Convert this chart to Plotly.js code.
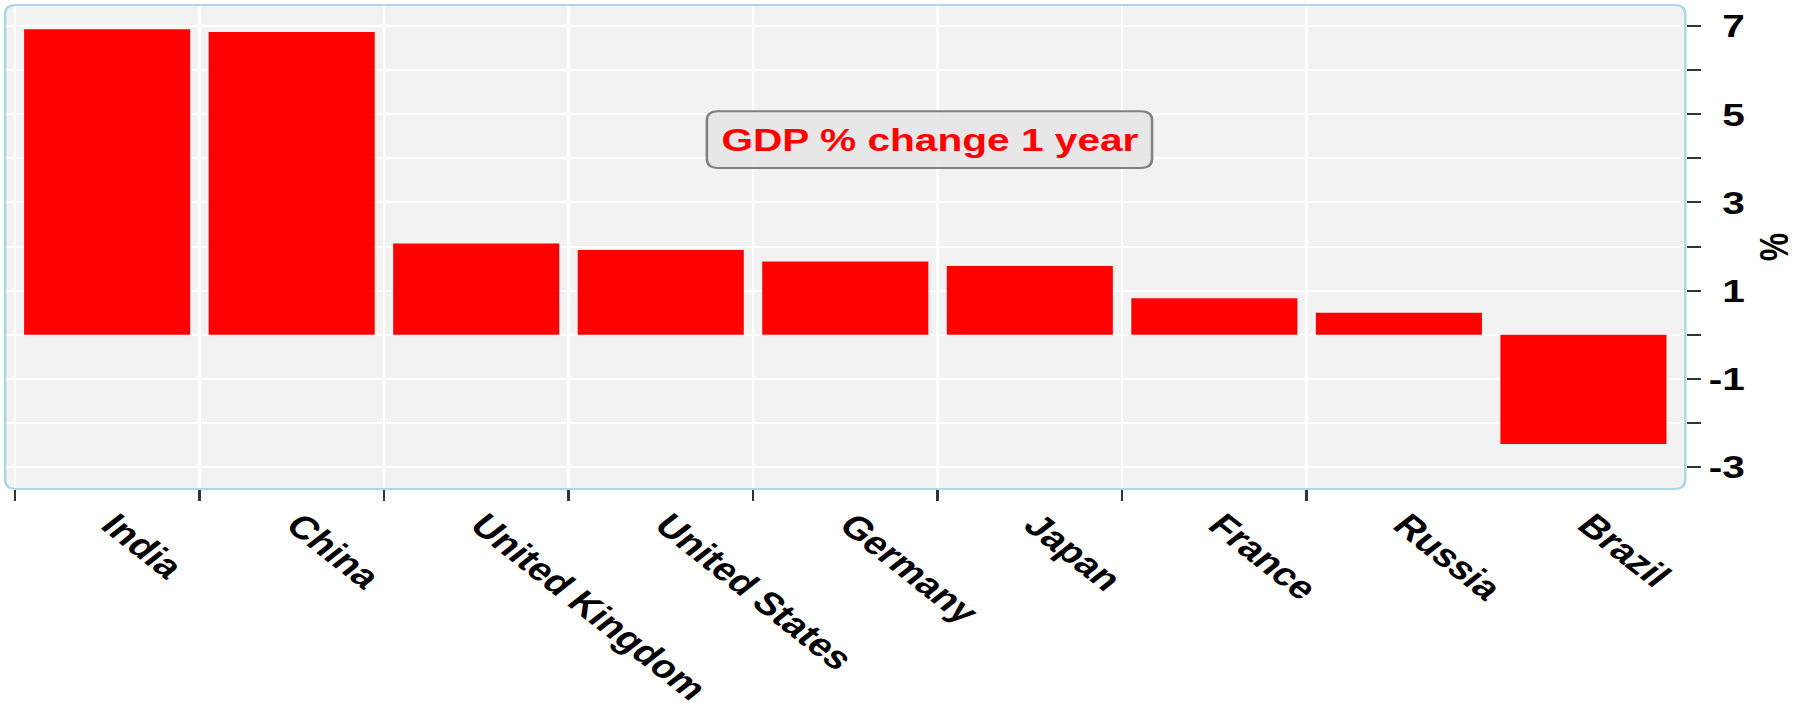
<!DOCTYPE html>
<html>
<head>
<meta charset="utf-8">
<script src="https://cdn.plot.ly/plotly-3.0.1.min.js"></script>
<style>
  html, body { margin: 0; padding: 0; background: #ffffff; overflow: hidden; }
  #wrap { width: 1797px; height: 714px; overflow: hidden; position: relative; }
  #chart { position: absolute; left: 0; top: 0; transform-origin: 0 0; }
</style>
</head>
<body>
<div id="wrap"><div id="chart"></div></div>
<script>
// ---- data ----
const countries = ['India', 'China', 'United Kingdom', 'United States', 'Germany', 'Japan', 'France', 'Russia', 'Brazil'];
const gdpChange = [6.93, 6.87, 2.07, 1.92, 1.66, 1.56, 0.83, 0.50, -2.48];
const yTickValues = [-3, -2, -1, 0, 1, 2, 3, 4, 5, 6, 7];
const yTickLabels = ['-3', '', '-1', '', '\u20041', '', '\u20043', '', '\u20045', '', '\u20047'];
const chartTitle = 'GDP % change 1 year';
const yAxisTitle = '%';

// ---- geometry (the reference is horizontally stretched) ----
const K = 1.27;
const FULL_W = 1797, FULL_H = 714;
const W = FULL_W / K;
const ml = 5.5 / K, mr = (FULL_W - 1685) / K, mt = 4.7, mb = FULL_H - 489.3;
const pw = W - ml - mr, ph = FULL_H - mt - mb;
const X_RANGE = [-0.553, 8.552];
// category boundaries that carry a tick / vertical grid line (all but the last)
const boundaryTicks = countries.slice(0, -1).map((c, i) => i - 0.5);

const FONT = 'Liberation Sans, Arial, Helvetica, sans-serif';

function px(x) { return x / pw; }
function py(y) { return 1 - y / ph; }
// rounded rectangle in plot-area pixel coords -> paper path
function roundRect(x0, y0, x1, y1, r) {
  const P = (x, y) => px(x) + ',' + py(y);
  return 'M' + P(x0 + r, y0) +
    ' L' + P(x1 - r, y0) + ' Q' + P(x1, y0) + ' ' + P(x1, y0 + r) +
    ' L' + P(x1, y1 - r) + ' Q' + P(x1, y1) + ' ' + P(x1 - r, y1) +
    ' L' + P(x0 + r, y1) + ' Q' + P(x0, y1) + ' ' + P(x0, y1 - r) +
    ' L' + P(x0, y0 + r) + ' Q' + P(x0, y0) + ' ' + P(x0 + r, y0) + ' Z';
}

// box of the in-plot label (screen px of reference, converted)
const bx0 = 707 / K - ml, bx1 = 1152 / K - ml, by0 = 111 - mt, by1 = 168 - mt;

const data = [
  {
    type: 'bar',
    x: countries,
    y: gdpChange,
    width: 0.9,
    marker: { color: '#ff0000', line: { width: 0 } },
    hoverinfo: 'x+y'
  },
  { type: 'scatter', x: [], y: [], xaxis: 'x2', yaxis: 'y', showlegend: false, hoverinfo: 'skip' }
];

const layout = {
  width: W,
  height: FULL_H,
  margin: { l: ml, r: mr, t: mt, b: mb, pad: 0 },
  paper_bgcolor: '#ffffff',
  plot_bgcolor: 'rgba(0,0,0,0)',
  showlegend: false,
  font: { family: FONT, color: '#000000' },
  xaxis: {
    type: 'category',
    range: X_RANGE,
    tickson: 'boundaries',
    ticks: 'outside',
    ticklen: 11,
    tickwidth: 2,
    tickcolor: 'rgba(0,0,0,0)',
    ticklabelstandoff: 10,
    ticklabelshift: 5,
    showgrid: false,
    showline: false,
    zeroline: false,
    tickangle: 45,
    tickfont: { family: FONT, size: 32, color: '#000000', weight: 'bold' },
    automargin: false
  },
  xaxis2: {
    type: 'linear',
    overlaying: 'x',
    anchor: 'y',
    side: 'bottom',
    range: X_RANGE,
    tickmode: 'array',
    tickvals: boundaryTicks,
    showticklabels: false,
    ticks: 'outside',
    ticklen: 11,
    tickwidth: 2,
    tickcolor: '#333333',
    showgrid: true,
    gridcolor: '#ffffff',
    gridwidth: 2,
    showline: false,
    zeroline: false,
    automargin: false
  },
  yaxis: {
    side: 'right',
    range: [-3.5, 7.48],
    tickmode: 'array',
    tickvals: yTickValues,
    ticktext: yTickLabels,
    ticks: 'outside',
    ticklen: 11,
    tickwidth: 2,
    tickcolor: '#333333',
    showgrid: true,
    gridcolor: '#ffffff',
    gridwidth: 2,
    showline: false,
    zeroline: false,
    tickfont: { family: FONT, size: 32, color: '#000000', weight: 'bold' },
    title: { text: yAxisTitle, font: { family: FONT, size: 32, color: '#000000', weight: 'bold' }, standoff: 12 },
    automargin: false
  },
  shapes: [
    { type: 'path', xref: 'paper', yref: 'paper', layer: 'below',
      path: roundRect(0, 0, pw, ph, 9), fillcolor: '#f2f2f2', line: { width: 0 } },
    { type: 'path', xref: 'paper', yref: 'paper', layer: 'above',
      path: roundRect(0, 0, pw, ph, 9), fillcolor: 'rgba(0,0,0,0)', line: { color: '#add8e6', width: 2 } },
    { type: 'path', xref: 'paper', yref: 'paper', layer: 'above',
      path: roundRect(bx0, by0, bx1, by1, 9), fillcolor: 'rgba(229,229,229,0.9)', line: { color: '#808080', width: 2 } }
  ],
  annotations: [{
    xref: 'paper', yref: 'paper',
    x: px((bx0 + bx1) / 2), y: py((by0 + by1) / 2),
    xanchor: 'center', yanchor: 'middle',
    text: chartTitle,
    showarrow: false,
    font: { family: FONT, size: 32, color: '#ff0000', weight: 'bold' }
  }]
};

const el = document.getElementById('chart');
el.style.width = W + 'px';
el.style.height = FULL_H + 'px';
el.style.transform = 'scaleX(' + K + ')';
Plotly.newPlot(el, data, layout, { staticPlot: true, displayModeBar: false, responsive: false });
</script>
</body>
</html>
